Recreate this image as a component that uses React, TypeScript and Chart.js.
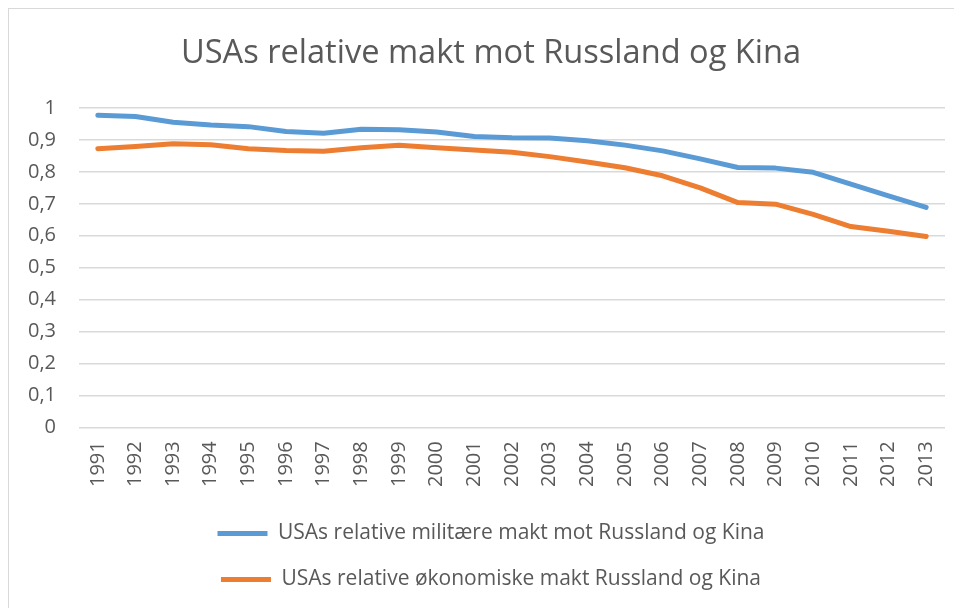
import React, { useEffect, useRef } from "react";
import { Chart, registerables } from "chart.js";

Chart.register(...registerables);

const years = [
  "1991", "1992", "1993", "1994", "1995", "1996", "1997", "1998", "1999", "2000",
  "2001", "2002", "2003", "2004", "2005", "2006", "2007", "2008", "2009", "2010",
  "2011", "2012", "2013",
];

const military = [
  0.978, 0.974, 0.956, 0.947, 0.942, 0.927, 0.921, 0.934, 0.932, 0.925,
  0.911, 0.907, 0.906, 0.898, 0.884, 0.866, 0.841, 0.814, 0.812, 0.799,
  0.762, 0.725, 0.689,
];

const economic = [
  0.873, 0.88, 0.888, 0.885, 0.873, 0.867, 0.865, 0.876, 0.884, 0.876,
  0.869, 0.862, 0.848, 0.831, 0.813, 0.788, 0.75, 0.704, 0.699, 0.667,
  0.629, 0.614, 0.598,
];

const seriesNames = [
  "USAs relative militære makt mot Russland og Kina",
  "USAs relative økonomiske makt Russland og Kina",
];

const titleText = "USAs relative makt mot Russland og Kina";

const FONT = "'Open Sans', 'Noto Sans', sans-serif";
const TEXT = "#595959";
const BLUE = "#5B9BD5";
const ORANGE = "#ED7D31";

export default function App() {
  const ref = useRef<HTMLCanvasElement | null>(null);

  useEffect(() => {
    document.documentElement.style.overflow = "hidden";
    document.body.style.overflow = "hidden";
    if (!ref.current) return;
    const chart = new Chart(ref.current, {
      type: "line",
      data: {
        labels: years,
        datasets: [
          {
            label: seriesNames[0],
            data: military,
            borderColor: BLUE,
            backgroundColor: BLUE,
            borderWidth: 5,
            pointRadius: 0,
            tension: 0,
            borderCapStyle: "round",
            borderJoinStyle: "round",
          },
          {
            label: seriesNames[1],
            data: economic,
            borderColor: ORANGE,
            backgroundColor: ORANGE,
            borderWidth: 5,
            pointRadius: 0,
            tension: 0,
            borderCapStyle: "round",
            borderJoinStyle: "round",
          },
        ],
      },
      options: {
        animation: false,
        responsive: true,
        maintainAspectRatio: false,
        layout: { padding: { left: 28, right: 17, top: 10, bottom: 8 } },
        plugins: {
          title: {
            display: true,
            text: titleText,
            color: TEXT,
            font: { family: FONT, size: 32.6, weight: "normal" },
            padding: { top: 15, bottom: 35 },
          },
          legend: {
            position: "bottom",
            labels: {
              color: TEXT,
              font: { family: FONT, size: 21 },
              boxWidth: 50,
              boxHeight: 5,
              padding: 25,
              generateLabels: (c) =>
                c.data.datasets.map((d, i) => ({
                  text: d.label as string,
                  fillStyle: d.borderColor as string,
                  strokeStyle: d.borderColor as string,
                  lineWidth: 0,
                  hidden: false,
                  datasetIndex: i,
                  fontColor: TEXT,
                })),
            },
          },
          tooltip: { enabled: false },
        },
        scales: {
          x: {
            offset: true,
            grid: { display: false },
            border: { display: false },
            afterFit: (scale) => {
              scale.height += 5;
            },
            ticks: {
              color: TEXT,
              font: { family: FONT, size: 20 },
              minRotation: 90,
              maxRotation: 90,
              autoSkip: false,
              padding: 6,
            },
          },
          y: {
            min: 0,
            max: 1,
            grid: { color: "#d9d9d9", lineWidth: 1.5, drawTicks: false },
            border: { display: false },
            afterFit: (scale) => {
              scale.width = 42;
              // let the tick labels extend into the left margin without clipping
              (scale as any)._computeLabelArea = () => undefined;
            },
            ticks: {
              stepSize: 0.1,
              color: TEXT,
              font: { family: FONT, size: 20 },
              padding: 23,
              callback: (v) => String(Math.round(Number(v) * 10) / 10).replace(".", ","),
            },
          },
        },
      },
    });
    return () => chart.destroy();
  }, []);

  return (
    <div
      style={{
        position: "relative",
        width: 953,
        height: 599,
        borderLeft: "1px solid #d9d9d9",
        borderTop: "1px solid #d9d9d9",
        background: "#fff",
      }}
    >
      <canvas ref={ref} />
    </div>
  );
}
